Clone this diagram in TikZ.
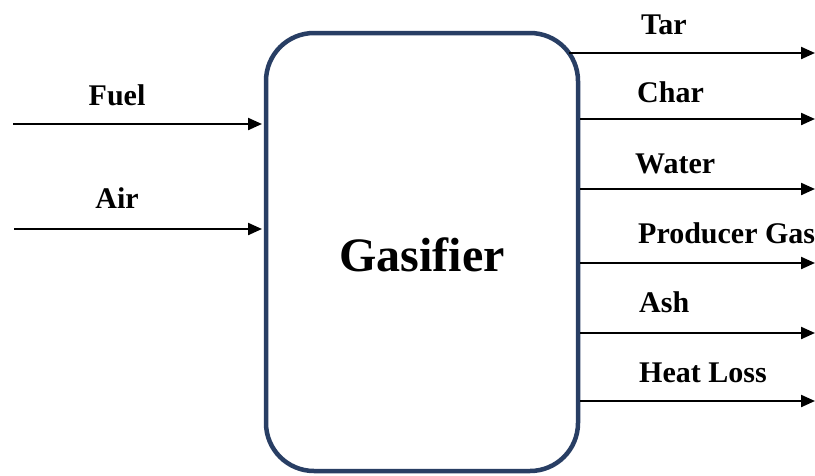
\documentclass[tikz,border=0pt]{standalone}
\usepackage{fontspec}
\setmainfont{Liberation Serif}
\usetikzlibrary{arrows.meta}
\definecolor{boxnavy}{RGB}{40,62,100}
\tikzset{
  flow/.style={line width=2.2pt, draw=black, -{Triangle[length=14pt,width=12pt]}},
  lbl/.style={inner sep=0pt, font=\fontsize{30}{34}\selectfont\bfseries},
  reactor/.style={draw=boxnavy, line width=4.5pt, rounded corners=48pt, fill=white,
    minimum width=312pt, minimum height=438pt, inner sep=0pt,
    font=\fontsize{48}{56}\selectfont\bfseries}
}
\begin{document}
\begin{tikzpicture}[x=1pt,y=-1pt]
\useasboundingbox (0,0) rectangle (815,475);
\clip (0,0) rectangle (815,475);
\fill[white] (0,0) rectangle (815,475);

\node[reactor] (gas) at (422,252) {};
\node[font=\fontsize{48}{56}\selectfont\bfseries, inner sep=0pt] (gaslbl) at (422,255) {Gasifier};

% inputs
\coordinate (fuelS) at (13,124);
\coordinate (airS) at (14,229);
\coordinate (fuelE) at (262,124);
\coordinate (airE) at (262,229);
\draw[flow] (fuelS) -- (fuelE);
\draw[flow] (airS) -- (airE);
\node[lbl, anchor=base] (fuel) at (117,105) {Fuel};
\node[lbl, anchor=base] (air) at (117,208) {Air};

% outputs
\coordinate (tarS) at (569,53);
\coordinate (tarE) at (815,53);
\coordinate (charE) at (815,119);
\coordinate (waterE) at (815,189);
\coordinate (prodE) at (815,263);
\coordinate (ashE) at (815,333);
\coordinate (heatE) at (815,401);
\draw[flow] (tarS) -- (tarE);
\draw[flow] (gas.east |- charE) -- (charE);
\draw[flow] (gas.east |- waterE) -- (waterE);
\draw[flow] (gas.east |- prodE) -- (prodE);
\draw[flow] (gas.east |- ashE) -- (ashE);
\draw[flow] (gas.east |- heatE) -- (heatE);

\node[lbl, anchor=base west] (tar) at (641,34) {Tar};
\node[lbl, anchor=base west] (char) at (637,102) {Char};
\node[lbl, anchor=base west] (water) at (635,173) {Water};
\node[lbl, anchor=base west] (prod) at (638,243) {Producer Gas};
\node[lbl, anchor=base west] (ash) at (639,312) {Ash};
\node[lbl, anchor=base west] (heat) at (639,382) {Heat Loss};
\end{tikzpicture}
\end{document}
